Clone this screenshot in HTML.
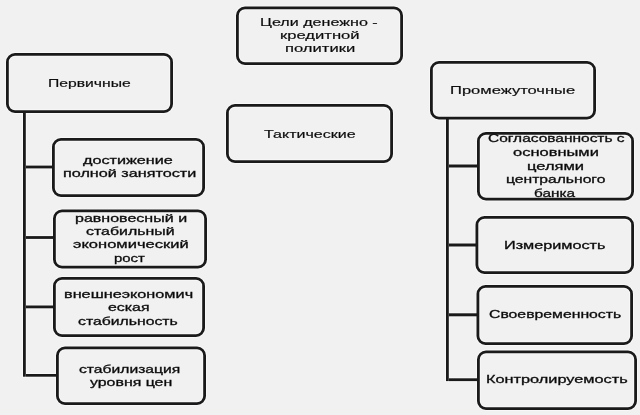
<!DOCTYPE html>
<html><head><meta charset="utf-8"><style>
html,body{margin:0;padding:0}
body{width:640px;height:415px;background:#f0f0f0;overflow:hidden}
#w{position:absolute;left:0;top:0;width:640px;height:415px;background:#f1f1f1;overflow:hidden;font-family:"Liberation Sans", sans-serif;color:#0a0a0a;filter:grayscale(1)}
.t{position:absolute;white-space:nowrap;line-height:0;transform-origin:0 0;-webkit-text-stroke:0.2px #222}
.bb{font-weight:400;-webkit-text-stroke:0.32px #111}
</style></head><body><div id="w">
<svg width="640" height="415" style="position:absolute;left:0;top:0"><rect x="237.4" y="7.9" width="164.2" height="55.7" rx="7.6" fill="#f1f1f1"/><rect x="7.4" y="54.4" width="164.2" height="57.2" rx="7.6" fill="#f1f1f1"/><rect x="227.4" y="105.4" width="164.2" height="56.2" rx="7.6" fill="#f1f1f1"/><rect x="431.4" y="62.4" width="163.2" height="55.7" rx="7.6" fill="#f1f1f1"/><rect x="53.4" y="139.4" width="150.2" height="56.2" rx="7.6" fill="#f1f1f1"/><rect x="54.4" y="210.9" width="151.2" height="56.2" rx="7.6" fill="#f1f1f1"/><rect x="54.4" y="278.4" width="149.2" height="57.2" rx="7.6" fill="#f1f1f1"/><rect x="57.4" y="347.9" width="147.2" height="55.7" rx="7.6" fill="#f1f1f1"/><rect x="478.4" y="133.4" width="154.2" height="65.7" rx="7.6" fill="#f1f1f1"/><rect x="476.9" y="217.4" width="155.7" height="55.2" rx="7.6" fill="#f1f1f1"/><rect x="477.9" y="286.4" width="153.7" height="57.2" rx="7.6" fill="#f1f1f1"/><rect x="478.4" y="351.9" width="157.2" height="56.7" rx="7.6" fill="#f1f1f1"/><rect x="237.4" y="7.9" width="164.2" height="55.7" rx="7.6" fill="none" stroke="#f8f8f8" stroke-width="4.8"/><rect x="7.4" y="54.4" width="164.2" height="57.2" rx="7.6" fill="none" stroke="#f8f8f8" stroke-width="4.8"/><rect x="227.4" y="105.4" width="164.2" height="56.2" rx="7.6" fill="none" stroke="#f8f8f8" stroke-width="4.8"/><rect x="431.4" y="62.4" width="163.2" height="55.7" rx="7.6" fill="none" stroke="#f8f8f8" stroke-width="4.8"/><rect x="53.4" y="139.4" width="150.2" height="56.2" rx="7.6" fill="none" stroke="#f8f8f8" stroke-width="4.8"/><rect x="54.4" y="210.9" width="151.2" height="56.2" rx="7.6" fill="none" stroke="#f8f8f8" stroke-width="4.8"/><rect x="54.4" y="278.4" width="149.2" height="57.2" rx="7.6" fill="none" stroke="#f8f8f8" stroke-width="4.8"/><rect x="57.4" y="347.9" width="147.2" height="55.7" rx="7.6" fill="none" stroke="#f8f8f8" stroke-width="4.8"/><rect x="478.4" y="133.4" width="154.2" height="65.7" rx="7.6" fill="none" stroke="#f8f8f8" stroke-width="4.8"/><rect x="476.9" y="217.4" width="155.7" height="55.2" rx="7.6" fill="none" stroke="#f8f8f8" stroke-width="4.8"/><rect x="477.9" y="286.4" width="153.7" height="57.2" rx="7.6" fill="none" stroke="#f8f8f8" stroke-width="4.8"/><rect x="478.4" y="351.9" width="157.2" height="56.7" rx="7.6" fill="none" stroke="#f8f8f8" stroke-width="4.8"/><rect x="22.0" y="112.0" width="4.8" height="265.7" fill="#f8f8f8"/><rect x="25.0" y="164.6" width="29.0" height="4.8" fill="#f8f8f8"/><rect x="25.0" y="235.1" width="30.0" height="4.8" fill="#f8f8f8"/><rect x="25.0" y="304.5" width="30.0" height="4.8" fill="#f8f8f8"/><rect x="25.0" y="373.0" width="33.0" height="4.7" fill="#f8f8f8"/><rect x="445.0" y="117.0" width="4.8" height="265.1" fill="#f8f8f8"/><rect x="448.0" y="163.5" width="31.0" height="5.0" fill="#f8f8f8"/><rect x="448.0" y="242.5" width="30.0" height="5.0" fill="#f8f8f8"/><rect x="448.0" y="312.3" width="30.0" height="5.0" fill="#f8f8f8"/><rect x="448.0" y="377.3" width="30.0" height="4.8" fill="#f8f8f8"/><rect x="237.4" y="7.9" width="164.2" height="55.7" rx="7.6" fill="none" stroke="#1a1a1a" stroke-width="2.8"/><rect x="7.4" y="54.4" width="164.2" height="57.2" rx="7.6" fill="none" stroke="#1a1a1a" stroke-width="2.8"/><rect x="227.4" y="105.4" width="164.2" height="56.2" rx="7.6" fill="none" stroke="#1a1a1a" stroke-width="2.8"/><rect x="431.4" y="62.4" width="163.2" height="55.7" rx="7.6" fill="none" stroke="#1a1a1a" stroke-width="2.8"/><rect x="53.4" y="139.4" width="150.2" height="56.2" rx="7.6" fill="none" stroke="#1a1a1a" stroke-width="2.8"/><rect x="54.4" y="210.9" width="151.2" height="56.2" rx="7.6" fill="none" stroke="#1a1a1a" stroke-width="2.8"/><rect x="54.4" y="278.4" width="149.2" height="57.2" rx="7.6" fill="none" stroke="#1a1a1a" stroke-width="2.8"/><rect x="57.4" y="347.9" width="147.2" height="55.7" rx="7.6" fill="none" stroke="#1a1a1a" stroke-width="2.8"/><rect x="478.4" y="133.4" width="154.2" height="65.7" rx="7.6" fill="none" stroke="#1a1a1a" stroke-width="2.8"/><rect x="476.9" y="217.4" width="155.7" height="55.2" rx="7.6" fill="none" stroke="#1a1a1a" stroke-width="2.8"/><rect x="477.9" y="286.4" width="153.7" height="57.2" rx="7.6" fill="none" stroke="#1a1a1a" stroke-width="2.8"/><rect x="478.4" y="351.9" width="157.2" height="56.7" rx="7.6" fill="none" stroke="#1a1a1a" stroke-width="2.8"/><rect x="23" y="113" width="2.8" height="263.7" fill="#1a1a1a"/><rect x="26" y="165.6" width="27" height="2.8" fill="#1a1a1a"/><rect x="26" y="236.1" width="28" height="2.8" fill="#1a1a1a"/><rect x="26" y="305.5" width="28" height="2.8" fill="#1a1a1a"/><rect x="26" y="374" width="31" height="2.7" fill="#1a1a1a"/><rect x="446" y="118" width="2.8" height="263.1" fill="#1a1a1a"/><rect x="449" y="164.5" width="29" height="3" fill="#1a1a1a"/><rect x="449" y="243.5" width="28" height="3" fill="#1a1a1a"/><rect x="449" y="313.3" width="28" height="3" fill="#1a1a1a"/><rect x="449" y="378.3" width="28" height="2.8" fill="#1a1a1a"/></svg>
<span class="t" style="left:260.30px;top:21.89px;font-size:11px;transform:scaleX(1.4643)">Цели денежно -</span>
<span class="t" style="left:279.60px;top:35.09px;font-size:11px;transform:scaleX(1.5095)">кредитной</span>
<span class="t" style="left:285.00px;top:48.49px;font-size:11px;transform:scaleX(1.5089)">политики</span>
<span class="t" style="left:48.00px;top:83.39px;font-size:11px;transform:scaleX(1.4263)">Первичные</span>
<span class="t" style="left:263.50px;top:133.69px;font-size:11px;transform:scaleX(1.4578)">Тактические</span>
<span class="t" style="left:449.80px;top:89.69px;font-size:11px;transform:scaleX(1.5027)">Промежуточные</span>
<span class="t bb" style="left:83.00px;top:159.61px;font-size:11.8px;transform:scaleX(1.3719)">достижение</span>
<span class="t bb" style="left:63.20px;top:172.71px;font-size:11.8px;transform:scaleX(1.3717)">полной занятости</span>
<span class="t bb" style="left:74.90px;top:218.31px;font-size:11.8px;transform:scaleX(1.3587)">равновесный и</span>
<span class="t bb" style="left:85.50px;top:231.11px;font-size:11.8px;transform:scaleX(1.3487)">стабильный</span>
<span class="t bb" style="left:72.60px;top:244.11px;font-size:11.8px;transform:scaleX(1.3999)">экономический</span>
<span class="t bb" style="left:113.60px;top:258.11px;font-size:11.8px;transform:scaleX(1.2630)">рост</span>
<span class="t bb" style="left:64.40px;top:294.31px;font-size:11.8px;transform:scaleX(1.3781)">внешнеэкономич</span>
<span class="t bb" style="left:107.70px;top:307.11px;font-size:11.8px;transform:scaleX(1.3469)">еская</span>
<span class="t bb" style="left:78.40px;top:320.51px;font-size:11.8px;transform:scaleX(1.3372)">стабильность</span>
<span class="t bb" style="left:79.30px;top:369.11px;font-size:11.8px;transform:scaleX(1.3274)">стабилизация</span>
<span class="t bb" style="left:89.50px;top:381.91px;font-size:11.8px;transform:scaleX(1.3467)">уровня цен</span>
<span class="t bb" style="left:487.50px;top:138.41px;font-size:11.8px;transform:scaleX(1.3123)">Согласованность с</span>
<span class="t bb" style="left:513.00px;top:152.11px;font-size:11.8px;transform:scaleX(1.3956)">основными</span>
<span class="t bb" style="left:526.80px;top:165.71px;font-size:11.8px;transform:scaleX(1.3989)">целями</span>
<span class="t bb" style="left:505.50px;top:179.41px;font-size:11.8px;transform:scaleX(1.3267)">центрального</span>
<span class="t bb" style="left:534.00px;top:192.91px;font-size:11.8px;transform:scaleX(1.2976)">банка</span>
<span class="t bb" style="left:504.20px;top:244.61px;font-size:11.8px;transform:scaleX(1.3748)">Измеримость</span>
<span class="t bb" style="left:488.50px;top:314.11px;font-size:11.8px;transform:scaleX(1.3370)">Своевременность</span>
<span class="t bb" style="left:486.00px;top:379.31px;font-size:11.8px;transform:scaleX(1.3816)">Контролируемость</span>
</div></body></html>
